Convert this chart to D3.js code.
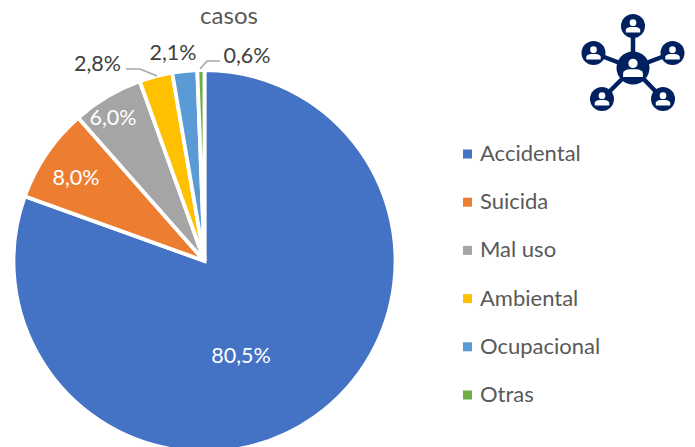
<!DOCTYPE html>
<html><head><meta charset="utf-8">
<script src="https://cdn.jsdelivr.net/npm/d3@7/dist/d3.min.js"></script>
<style>html,body{margin:0;background:#fff}svg{display:block}text{font-family:Lato,"Open Sans",sans-serif}</style>
</head><body><svg id="c" width="695" height="447"></svg>
<script>
const categories=["Accidental","Suicida","Mal uso","Ambiental","Ocupacional","Otras"];
const values=[80.5,8.0,6.0,2.8,2.1,0.6];
const labels=["80,5%","8,0%","6,0%","2,8%","2,1%","0,6%"];
const colors=["#4472c4","#ed7d31","#a5a5a5","#ffc000","#5b9bd5","#70ad47"];
const labelPos=[[241,363,"#fff"],[76,185,"#fff"],[113,125,"#fff"],[97.5,71,"#404040"],[173,60,"#404040"],[247,63,"#404040"]];
const leaders=[[[126,69],[140,69],[157,76]],[],[],[],[],[[200,69],[207,61],[220,61]]];
const titleText="casos";
const svg=d3.select("#c");
const cx=204.5,cy=261,R=191;
const pie=d3.pie().sort(null).value(d=>d)(values);
const arc=d3.arc().innerRadius(0).outerRadius(R);
const g=svg.append("g").attr("transform",`translate(${cx},${cy})`);
g.selectAll("path").data(pie).join("path").attr("d",arc).attr("fill",(d,i)=>colors[i]).attr("stroke","#fff").attr("stroke-width",3.8).attr("stroke-linejoin","miter");
svg.append("text").attr("x",229).attr("y",24).attr("text-anchor","middle").attr("font-size",24).attr("fill","#595959").text(titleText);
const line=d3.line();
[leaders[0],leaders[5]].forEach(p=>svg.append("path").attr("d",line(p)).attr("fill","none").attr("stroke","#a6a6a6").attr("stroke-width",1.5));
labels.forEach((t,i)=>svg.append("text").attr("x",labelPos[i][0]).attr("y",labelPos[i][1]).attr("text-anchor","middle").attr("font-size",21.5).attr("fill",labelPos[i][2]).text(t));
const ly=d3.scalePoint().domain(categories).range([154,395]);
categories.forEach((c,i)=>{
 svg.append("rect").attr("x",463).attr("y",ly(c)-4.5).attr("width",9).attr("height",9).attr("fill",colors[i]);
 svg.append("text").attr("x",480).attr("y",ly(c)+7).attr("font-size",22).attr("fill","#595959").text(c);
});
// icon
const navy="#002060";
const hub=[633,68];
const nodes=[[633,26],[593.5,53],[672.5,53],[602,99],[663,99]];
const ic=svg.append("g");
nodes.forEach(n=>ic.append("line").attr("x1",hub[0]).attr("y1",hub[1]).attr("x2",n[0]).attr("y2",n[1]).attr("stroke",navy).attr("stroke-width",4.5));
function person(x,y,r){
 ic.append("circle").attr("cx",x).attr("cy",y).attr("r",r).attr("fill",navy);
 ic.append("circle").attr("cx",x).attr("cy",y-r*0.28).attr("r",r*0.28).attr("fill","#fff");
 ic.append("path").attr("d",`M${x-r*0.6},${y+r*0.55}L${x-r*0.6},${y+r*0.3}Q${x-r*0.5},${y+r*0.08} ${x-r*0.2},${y+r*0.08}L${x+r*0.2},${y+r*0.08}Q${x+r*0.5},${y+r*0.08} ${x+r*0.6},${y+r*0.3}L${x+r*0.6},${y+r*0.55}Z`).attr("fill","#fff");
}
person(hub[0],hub[1],16.5);
nodes.forEach(n=>person(n[0],n[1],12));
</script></body></html>
